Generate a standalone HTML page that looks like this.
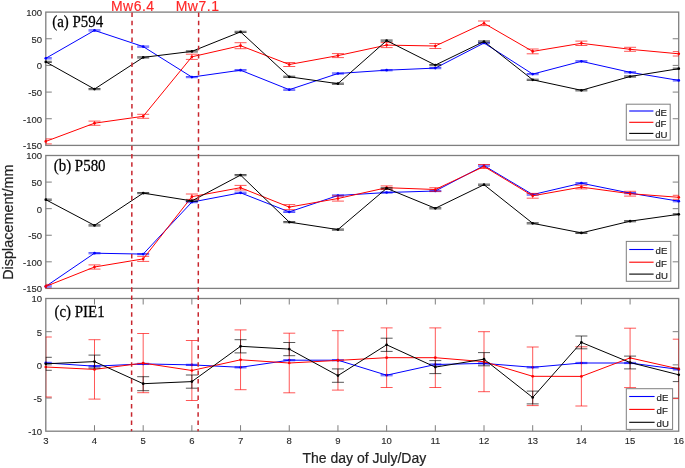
<!DOCTYPE html><html><head><meta charset="utf-8"><style>html,body{margin:0;padding:0;background:#fff;width:685px;height:468px;overflow:hidden}svg{display:block;will-change:transform}text{font-family:"Liberation Sans",sans-serif;fill:#262626}.tk{font-size:9.5px;stroke:#262626;stroke-width:0.12px}.lg{font-size:9.6px;stroke:#262626;stroke-width:0.2px}.pl{font-family:"Liberation Serif",serif;font-size:16px;fill:#000;stroke:#000;stroke-width:0.25px}.mw{font-size:14px;fill:#ff2626;letter-spacing:0.5px;stroke:#ff2626;stroke-width:0.15px}.al{font-size:14px;fill:#222;stroke:#222;stroke-width:0.2px}</style></head><body>
<svg width="685" height="468" viewBox="0 0 685 468">
<defs>
<clipPath id="cpa"><rect x="45.8" y="12.1" width="632.9" height="133.3"/></clipPath>
<clipPath id="cpb"><rect x="45.8" y="155.5" width="632.9" height="132.9"/></clipPath>
<clipPath id="cpc"><rect x="45.8" y="298.5" width="632.9" height="132.7"/></clipPath>
</defs>
<rect x="45.8" y="12.1" width="632.9" height="133.3" fill="none" stroke="#7f7f7f" stroke-width="1.3"/>
<rect x="45.8" y="155.5" width="632.9" height="132.9" fill="none" stroke="#7f7f7f" stroke-width="1.3"/>
<rect x="45.8" y="298.5" width="632.9" height="132.7" fill="none" stroke="#7f7f7f" stroke-width="1.3"/>
<text x="42" y="15.9" class="tk" text-anchor="end">100</text>
<text x="42" y="42.6" class="tk" text-anchor="end">50</text>
<line x1="45.8" x2="51.8" y1="38.76" y2="38.76" stroke="#7f7f7f" stroke-width="1"/>
<line x1="672.7" x2="678.7" y1="38.76" y2="38.76" stroke="#7f7f7f" stroke-width="1"/>
<text x="42" y="69.2" class="tk" text-anchor="end">0</text>
<line x1="45.8" x2="51.8" y1="65.42" y2="65.42" stroke="#7f7f7f" stroke-width="1"/>
<line x1="672.7" x2="678.7" y1="65.42" y2="65.42" stroke="#7f7f7f" stroke-width="1"/>
<text x="42" y="95.9" class="tk" text-anchor="end">-50</text>
<line x1="45.8" x2="51.8" y1="92.08" y2="92.08" stroke="#7f7f7f" stroke-width="1"/>
<line x1="672.7" x2="678.7" y1="92.08" y2="92.08" stroke="#7f7f7f" stroke-width="1"/>
<text x="42" y="122.5" class="tk" text-anchor="end">-100</text>
<line x1="45.8" x2="51.8" y1="118.74" y2="118.74" stroke="#7f7f7f" stroke-width="1"/>
<line x1="672.7" x2="678.7" y1="118.74" y2="118.74" stroke="#7f7f7f" stroke-width="1"/>
<text x="42" y="149.2" class="tk" text-anchor="end">-150</text>
<text x="42" y="159.3" class="tk" text-anchor="end">100</text>
<text x="42" y="185.9" class="tk" text-anchor="end">50</text>
<line x1="45.8" x2="51.8" y1="182.08" y2="182.08" stroke="#7f7f7f" stroke-width="1"/>
<line x1="672.7" x2="678.7" y1="182.08" y2="182.08" stroke="#7f7f7f" stroke-width="1"/>
<text x="42" y="212.5" class="tk" text-anchor="end">0</text>
<line x1="45.8" x2="51.8" y1="208.66" y2="208.66" stroke="#7f7f7f" stroke-width="1"/>
<line x1="672.7" x2="678.7" y1="208.66" y2="208.66" stroke="#7f7f7f" stroke-width="1"/>
<text x="42" y="239.0" class="tk" text-anchor="end">-50</text>
<line x1="45.8" x2="51.8" y1="235.24" y2="235.24" stroke="#7f7f7f" stroke-width="1"/>
<line x1="672.7" x2="678.7" y1="235.24" y2="235.24" stroke="#7f7f7f" stroke-width="1"/>
<text x="42" y="265.6" class="tk" text-anchor="end">-100</text>
<line x1="45.8" x2="51.8" y1="261.82" y2="261.82" stroke="#7f7f7f" stroke-width="1"/>
<line x1="672.7" x2="678.7" y1="261.82" y2="261.82" stroke="#7f7f7f" stroke-width="1"/>
<text x="42" y="292.2" class="tk" text-anchor="end">-150</text>
<text x="42" y="302.3" class="tk" text-anchor="end">10</text>
<text x="42" y="335.5" class="tk" text-anchor="end">5</text>
<line x1="45.8" x2="51.8" y1="331.68" y2="331.68" stroke="#7f7f7f" stroke-width="1"/>
<line x1="672.7" x2="678.7" y1="331.68" y2="331.68" stroke="#7f7f7f" stroke-width="1"/>
<text x="42" y="368.7" class="tk" text-anchor="end">0</text>
<line x1="45.8" x2="51.8" y1="364.85" y2="364.85" stroke="#7f7f7f" stroke-width="1"/>
<line x1="672.7" x2="678.7" y1="364.85" y2="364.85" stroke="#7f7f7f" stroke-width="1"/>
<text x="42" y="401.8" class="tk" text-anchor="end">-5</text>
<line x1="45.8" x2="51.8" y1="398.02" y2="398.02" stroke="#7f7f7f" stroke-width="1"/>
<line x1="672.7" x2="678.7" y1="398.02" y2="398.02" stroke="#7f7f7f" stroke-width="1"/>
<text x="42" y="435.0" class="tk" text-anchor="end">-10</text>
<text x="45.80" y="443.8" class="tk" text-anchor="middle">3</text>
<text x="94.49" y="443.8" class="tk" text-anchor="middle">4</text>
<line x1="94.49" x2="94.49" y1="425.2" y2="431.2" stroke="#7f7f7f" stroke-width="1"/>
<line x1="94.49" x2="94.49" y1="298.5" y2="304.5" stroke="#7f7f7f" stroke-width="1"/>
<text x="143.18" y="443.8" class="tk" text-anchor="middle">5</text>
<line x1="143.18" x2="143.18" y1="425.2" y2="431.2" stroke="#7f7f7f" stroke-width="1"/>
<line x1="143.18" x2="143.18" y1="298.5" y2="304.5" stroke="#7f7f7f" stroke-width="1"/>
<text x="191.87" y="443.8" class="tk" text-anchor="middle">6</text>
<line x1="191.87" x2="191.87" y1="425.2" y2="431.2" stroke="#7f7f7f" stroke-width="1"/>
<line x1="191.87" x2="191.87" y1="298.5" y2="304.5" stroke="#7f7f7f" stroke-width="1"/>
<text x="240.56" y="443.8" class="tk" text-anchor="middle">7</text>
<line x1="240.56" x2="240.56" y1="425.2" y2="431.2" stroke="#7f7f7f" stroke-width="1"/>
<line x1="240.56" x2="240.56" y1="298.5" y2="304.5" stroke="#7f7f7f" stroke-width="1"/>
<text x="289.25" y="443.8" class="tk" text-anchor="middle">8</text>
<line x1="289.25" x2="289.25" y1="425.2" y2="431.2" stroke="#7f7f7f" stroke-width="1"/>
<line x1="289.25" x2="289.25" y1="298.5" y2="304.5" stroke="#7f7f7f" stroke-width="1"/>
<text x="337.94" y="443.8" class="tk" text-anchor="middle">9</text>
<line x1="337.94" x2="337.94" y1="425.2" y2="431.2" stroke="#7f7f7f" stroke-width="1"/>
<line x1="337.94" x2="337.94" y1="298.5" y2="304.5" stroke="#7f7f7f" stroke-width="1"/>
<text x="386.63" y="443.8" class="tk" text-anchor="middle">10</text>
<line x1="386.63" x2="386.63" y1="425.2" y2="431.2" stroke="#7f7f7f" stroke-width="1"/>
<line x1="386.63" x2="386.63" y1="298.5" y2="304.5" stroke="#7f7f7f" stroke-width="1"/>
<text x="435.32" y="443.8" class="tk" text-anchor="middle">11</text>
<line x1="435.32" x2="435.32" y1="425.2" y2="431.2" stroke="#7f7f7f" stroke-width="1"/>
<line x1="435.32" x2="435.32" y1="298.5" y2="304.5" stroke="#7f7f7f" stroke-width="1"/>
<text x="484.01" y="443.8" class="tk" text-anchor="middle">12</text>
<line x1="484.01" x2="484.01" y1="425.2" y2="431.2" stroke="#7f7f7f" stroke-width="1"/>
<line x1="484.01" x2="484.01" y1="298.5" y2="304.5" stroke="#7f7f7f" stroke-width="1"/>
<text x="532.70" y="443.8" class="tk" text-anchor="middle">13</text>
<line x1="532.70" x2="532.70" y1="425.2" y2="431.2" stroke="#7f7f7f" stroke-width="1"/>
<line x1="532.70" x2="532.70" y1="298.5" y2="304.5" stroke="#7f7f7f" stroke-width="1"/>
<text x="581.39" y="443.8" class="tk" text-anchor="middle">14</text>
<line x1="581.39" x2="581.39" y1="425.2" y2="431.2" stroke="#7f7f7f" stroke-width="1"/>
<line x1="581.39" x2="581.39" y1="298.5" y2="304.5" stroke="#7f7f7f" stroke-width="1"/>
<text x="630.08" y="443.8" class="tk" text-anchor="middle">15</text>
<line x1="630.08" x2="630.08" y1="425.2" y2="431.2" stroke="#7f7f7f" stroke-width="1"/>
<line x1="630.08" x2="630.08" y1="298.5" y2="304.5" stroke="#7f7f7f" stroke-width="1"/>
<text x="678.77" y="443.8" class="tk" text-anchor="middle">16</text>
<g clip-path="url(#cpa)"><path d="M45.80 57.70V58.90M39.80 57.70H51.80M39.80 58.90H51.80" stroke="#0000ff" stroke-width="0.85" stroke-opacity="0.78" fill="none"/><path d="M94.49 29.80V31.00M88.49 29.80H100.49M88.49 31.00H100.49" stroke="#0000ff" stroke-width="0.85" stroke-opacity="0.78" fill="none"/><path d="M143.18 46.00V47.20M137.18 46.00H149.18M137.18 47.20H149.18" stroke="#0000ff" stroke-width="0.85" stroke-opacity="0.78" fill="none"/><path d="M191.87 76.50V77.70M185.87 76.50H197.87M185.87 77.70H197.87" stroke="#0000ff" stroke-width="0.85" stroke-opacity="0.78" fill="none"/><path d="M240.56 69.60V70.80M234.56 69.60H246.56M234.56 70.80H246.56" stroke="#0000ff" stroke-width="0.85" stroke-opacity="0.78" fill="none"/><path d="M289.25 89.10V90.30M283.25 89.10H295.25M283.25 90.30H295.25" stroke="#0000ff" stroke-width="0.85" stroke-opacity="0.78" fill="none"/><path d="M337.94 72.90V74.10M331.94 72.90H343.94M331.94 74.10H343.94" stroke="#0000ff" stroke-width="0.85" stroke-opacity="0.78" fill="none"/><path d="M386.63 69.60V70.80M380.63 69.60H392.63M380.63 70.80H392.63" stroke="#0000ff" stroke-width="0.85" stroke-opacity="0.78" fill="none"/><path d="M435.32 67.50V68.70M429.32 67.50H441.32M429.32 68.70H441.32" stroke="#0000ff" stroke-width="0.85" stroke-opacity="0.78" fill="none"/><path d="M484.01 42.40V43.60M478.01 42.40H490.01M478.01 43.60H490.01" stroke="#0000ff" stroke-width="0.85" stroke-opacity="0.78" fill="none"/><path d="M532.70 73.50V74.70M526.70 73.50H538.70M526.70 74.70H538.70" stroke="#0000ff" stroke-width="0.85" stroke-opacity="0.78" fill="none"/><path d="M581.39 60.70V61.90M575.39 60.70H587.39M575.39 61.90H587.39" stroke="#0000ff" stroke-width="0.85" stroke-opacity="0.78" fill="none"/><path d="M630.08 71.70V72.90M624.08 71.70H636.08M624.08 72.90H636.08" stroke="#0000ff" stroke-width="0.85" stroke-opacity="0.78" fill="none"/><path d="M678.77 79.80V81.00M672.77 79.80H684.77M672.77 81.00H684.77" stroke="#0000ff" stroke-width="0.85" stroke-opacity="0.78" fill="none"/></g><polyline points="45.80,58.30 94.49,30.40 143.18,46.60 191.87,77.10 240.56,70.20 289.25,89.70 337.94,73.50 386.63,70.20 435.32,68.10 484.01,43.00 532.70,74.10 581.39,61.30 630.08,72.30 678.77,80.40" stroke="#0000ff" stroke-width="1.0" fill="none" stroke-linejoin="round"/><circle cx="45.80" cy="58.30" r="1.35" fill="#0000ff"/><circle cx="94.49" cy="30.40" r="1.35" fill="#0000ff"/><circle cx="143.18" cy="46.60" r="1.35" fill="#0000ff"/><circle cx="191.87" cy="77.10" r="1.35" fill="#0000ff"/><circle cx="240.56" cy="70.20" r="1.35" fill="#0000ff"/><circle cx="289.25" cy="89.70" r="1.35" fill="#0000ff"/><circle cx="337.94" cy="73.50" r="1.35" fill="#0000ff"/><circle cx="386.63" cy="70.20" r="1.35" fill="#0000ff"/><circle cx="435.32" cy="68.10" r="1.35" fill="#0000ff"/><circle cx="484.01" cy="43.00" r="1.35" fill="#0000ff"/><circle cx="532.70" cy="74.10" r="1.35" fill="#0000ff"/><circle cx="581.39" cy="61.30" r="1.35" fill="#0000ff"/><circle cx="630.08" cy="72.30" r="1.35" fill="#0000ff"/><circle cx="678.77" cy="80.40" r="1.35" fill="#0000ff"/>
<g clip-path="url(#cpa)"><path d="M45.80 138.90V143.90M39.80 138.90H51.80M39.80 143.90H51.80" stroke="#ff0000" stroke-width="0.85" stroke-opacity="0.78" fill="none"/><path d="M94.49 121.10V125.30M88.49 121.10H100.49M88.49 125.30H100.49" stroke="#ff0000" stroke-width="0.85" stroke-opacity="0.78" fill="none"/><path d="M143.18 114.30V118.30M137.18 114.30H149.18M137.18 118.30H149.18" stroke="#ff0000" stroke-width="0.85" stroke-opacity="0.78" fill="none"/><path d="M191.87 54.20V59.40M185.87 54.20H197.87M185.87 59.40H197.87" stroke="#ff0000" stroke-width="0.85" stroke-opacity="0.78" fill="none"/><path d="M240.56 42.70V48.70M234.56 42.70H246.56M234.56 48.70H246.56" stroke="#ff0000" stroke-width="0.85" stroke-opacity="0.78" fill="none"/><path d="M289.25 62.50V66.50M283.25 62.50H295.25M283.25 66.50H295.25" stroke="#ff0000" stroke-width="0.85" stroke-opacity="0.78" fill="none"/><path d="M337.94 53.60V57.60M331.94 53.60H343.94M331.94 57.60H343.94" stroke="#ff0000" stroke-width="0.85" stroke-opacity="0.78" fill="none"/><path d="M386.63 42.60V47.60M380.63 42.60H392.63M380.63 47.60H392.63" stroke="#ff0000" stroke-width="0.85" stroke-opacity="0.78" fill="none"/><path d="M435.32 43.50V48.50M429.32 43.50H441.32M429.32 48.50H441.32" stroke="#ff0000" stroke-width="0.85" stroke-opacity="0.78" fill="none"/><path d="M484.01 21.00V25.60M478.01 21.00H490.01M478.01 25.60H490.01" stroke="#ff0000" stroke-width="0.85" stroke-opacity="0.78" fill="none"/><path d="M532.70 49.00V53.80M526.70 49.00H538.70M526.70 53.80H538.70" stroke="#ff0000" stroke-width="0.85" stroke-opacity="0.78" fill="none"/><path d="M581.39 41.10V45.50M575.39 41.10H587.39M575.39 45.50H587.39" stroke="#ff0000" stroke-width="0.85" stroke-opacity="0.78" fill="none"/><path d="M630.08 47.30V51.30M624.08 47.30H636.08M624.08 51.30H636.08" stroke="#ff0000" stroke-width="0.85" stroke-opacity="0.78" fill="none"/><path d="M678.77 51.60V56.00M672.77 51.60H684.77M672.77 56.00H684.77" stroke="#ff0000" stroke-width="0.85" stroke-opacity="0.78" fill="none"/></g><polyline points="45.80,141.40 94.49,123.20 143.18,116.30 191.87,56.80 240.56,45.70 289.25,64.50 337.94,55.60 386.63,45.10 435.32,46.00 484.01,23.30 532.70,51.40 581.39,43.30 630.08,49.30 678.77,53.80" stroke="#ff0000" stroke-width="1.0" fill="none" stroke-linejoin="round"/><circle cx="45.80" cy="141.40" r="1.35" fill="#ff0000"/><circle cx="94.49" cy="123.20" r="1.35" fill="#ff0000"/><circle cx="143.18" cy="116.30" r="1.35" fill="#ff0000"/><circle cx="191.87" cy="56.80" r="1.35" fill="#ff0000"/><circle cx="240.56" cy="45.70" r="1.35" fill="#ff0000"/><circle cx="289.25" cy="64.50" r="1.35" fill="#ff0000"/><circle cx="337.94" cy="55.60" r="1.35" fill="#ff0000"/><circle cx="386.63" cy="45.10" r="1.35" fill="#ff0000"/><circle cx="435.32" cy="46.00" r="1.35" fill="#ff0000"/><circle cx="484.01" cy="23.30" r="1.35" fill="#ff0000"/><circle cx="532.70" cy="51.40" r="1.35" fill="#ff0000"/><circle cx="581.39" cy="43.30" r="1.35" fill="#ff0000"/><circle cx="630.08" cy="49.30" r="1.35" fill="#ff0000"/><circle cx="678.77" cy="53.80" r="1.35" fill="#ff0000"/>
<g clip-path="url(#cpa)"><path d="M45.80 61.30V62.50M39.80 61.30H51.80M39.80 62.50H51.80" stroke="#000000" stroke-width="0.85" stroke-opacity="0.78" fill="none"/><path d="M94.49 88.50V89.70M88.49 88.50H100.49M88.49 89.70H100.49" stroke="#000000" stroke-width="0.85" stroke-opacity="0.78" fill="none"/><path d="M143.18 56.80V58.00M137.18 56.80H149.18M137.18 58.00H149.18" stroke="#000000" stroke-width="0.85" stroke-opacity="0.78" fill="none"/><path d="M191.87 50.80V52.00M185.87 50.80H197.87M185.87 52.00H197.87" stroke="#000000" stroke-width="0.85" stroke-opacity="0.78" fill="none"/><path d="M240.56 31.30V32.50M234.56 31.30H246.56M234.56 32.50H246.56" stroke="#000000" stroke-width="0.85" stroke-opacity="0.78" fill="none"/><path d="M289.25 76.20V77.40M283.25 76.20H295.25M283.25 77.40H295.25" stroke="#000000" stroke-width="0.85" stroke-opacity="0.78" fill="none"/><path d="M337.94 83.10V84.30M331.94 83.10H343.94M331.94 84.30H343.94" stroke="#000000" stroke-width="0.85" stroke-opacity="0.78" fill="none"/><path d="M386.63 40.00V41.20M380.63 40.00H392.63M380.63 41.20H392.63" stroke="#000000" stroke-width="0.85" stroke-opacity="0.78" fill="none"/><path d="M435.32 64.50V65.70M429.32 64.50H441.32M429.32 65.70H441.32" stroke="#000000" stroke-width="0.85" stroke-opacity="0.78" fill="none"/><path d="M484.01 40.90V42.10M478.01 40.90H490.01M478.01 42.10H490.01" stroke="#000000" stroke-width="0.85" stroke-opacity="0.78" fill="none"/><path d="M532.70 79.20V80.40M526.70 79.20H538.70M526.70 80.40H538.70" stroke="#000000" stroke-width="0.85" stroke-opacity="0.78" fill="none"/><path d="M581.39 89.70V90.90M575.39 89.70H587.39M575.39 90.90H587.39" stroke="#000000" stroke-width="0.85" stroke-opacity="0.78" fill="none"/><path d="M630.08 75.90V77.10M624.08 75.90H636.08M624.08 77.10H636.08" stroke="#000000" stroke-width="0.85" stroke-opacity="0.78" fill="none"/><path d="M678.77 68.10V69.30M672.77 68.10H684.77M672.77 69.30H684.77" stroke="#000000" stroke-width="0.85" stroke-opacity="0.78" fill="none"/></g><polyline points="45.80,61.90 94.49,89.10 143.18,57.40 191.87,51.40 240.56,31.90 289.25,76.80 337.94,83.70 386.63,40.60 435.32,65.10 484.01,41.50 532.70,79.80 581.39,90.30 630.08,76.50 678.77,68.70" stroke="#000000" stroke-width="1.0" fill="none" stroke-linejoin="round"/><circle cx="45.80" cy="61.90" r="1.35" fill="#000000"/><circle cx="94.49" cy="89.10" r="1.35" fill="#000000"/><circle cx="143.18" cy="57.40" r="1.35" fill="#000000"/><circle cx="191.87" cy="51.40" r="1.35" fill="#000000"/><circle cx="240.56" cy="31.90" r="1.35" fill="#000000"/><circle cx="289.25" cy="76.80" r="1.35" fill="#000000"/><circle cx="337.94" cy="83.70" r="1.35" fill="#000000"/><circle cx="386.63" cy="40.60" r="1.35" fill="#000000"/><circle cx="435.32" cy="65.10" r="1.35" fill="#000000"/><circle cx="484.01" cy="41.50" r="1.35" fill="#000000"/><circle cx="532.70" cy="79.80" r="1.35" fill="#000000"/><circle cx="581.39" cy="90.30" r="1.35" fill="#000000"/><circle cx="630.08" cy="76.50" r="1.35" fill="#000000"/><circle cx="678.77" cy="68.70" r="1.35" fill="#000000"/>
<g clip-path="url(#cpb)"><path d="M45.80 285.80V287.00M39.80 285.80H51.80M39.80 287.00H51.80" stroke="#0000ff" stroke-width="0.85" stroke-opacity="0.78" fill="none"/><path d="M94.49 252.60V253.80M88.49 252.60H100.49M88.49 253.80H100.49" stroke="#0000ff" stroke-width="0.85" stroke-opacity="0.78" fill="none"/><path d="M143.18 253.50V254.70M137.18 253.50H149.18M137.18 254.70H149.18" stroke="#0000ff" stroke-width="0.85" stroke-opacity="0.78" fill="none"/><path d="M191.87 201.50V202.70M185.87 201.50H197.87M185.87 202.70H197.87" stroke="#0000ff" stroke-width="0.85" stroke-opacity="0.78" fill="none"/><path d="M240.56 192.20V193.40M234.56 192.20H246.56M234.56 193.40H246.56" stroke="#0000ff" stroke-width="0.85" stroke-opacity="0.78" fill="none"/><path d="M289.25 211.30V212.50M283.25 211.30H295.25M283.25 212.50H295.25" stroke="#0000ff" stroke-width="0.85" stroke-opacity="0.78" fill="none"/><path d="M337.94 194.90V196.10M331.94 194.90H343.94M331.94 196.10H343.94" stroke="#0000ff" stroke-width="0.85" stroke-opacity="0.78" fill="none"/><path d="M386.63 191.90V193.10M380.63 191.90H392.63M380.63 193.10H392.63" stroke="#0000ff" stroke-width="0.85" stroke-opacity="0.78" fill="none"/><path d="M435.32 190.40V191.60M429.32 190.40H441.32M429.32 191.60H441.32" stroke="#0000ff" stroke-width="0.85" stroke-opacity="0.78" fill="none"/><path d="M484.01 165.00V166.20M478.01 165.00H490.01M478.01 166.20H490.01" stroke="#0000ff" stroke-width="0.85" stroke-opacity="0.78" fill="none"/><path d="M532.70 194.00V195.20M526.70 194.00H538.70M526.70 195.20H538.70" stroke="#0000ff" stroke-width="0.85" stroke-opacity="0.78" fill="none"/><path d="M581.39 182.60V183.80M575.39 182.60H587.39M575.39 183.80H587.39" stroke="#0000ff" stroke-width="0.85" stroke-opacity="0.78" fill="none"/><path d="M630.08 192.50V193.70M624.08 192.50H636.08M624.08 193.70H636.08" stroke="#0000ff" stroke-width="0.85" stroke-opacity="0.78" fill="none"/><path d="M678.77 200.60V201.80M672.77 200.60H684.77M672.77 201.80H684.77" stroke="#0000ff" stroke-width="0.85" stroke-opacity="0.78" fill="none"/></g><polyline points="45.80,286.40 94.49,253.20 143.18,254.10 191.87,202.10 240.56,192.80 289.25,211.90 337.94,195.50 386.63,192.50 435.32,191.00 484.01,165.60 532.70,194.60 581.39,183.20 630.08,193.10 678.77,201.20" stroke="#0000ff" stroke-width="1.0" fill="none" stroke-linejoin="round"/><circle cx="45.80" cy="286.40" r="1.35" fill="#0000ff"/><circle cx="94.49" cy="253.20" r="1.35" fill="#0000ff"/><circle cx="143.18" cy="254.10" r="1.35" fill="#0000ff"/><circle cx="191.87" cy="202.10" r="1.35" fill="#0000ff"/><circle cx="240.56" cy="192.80" r="1.35" fill="#0000ff"/><circle cx="289.25" cy="211.90" r="1.35" fill="#0000ff"/><circle cx="337.94" cy="195.50" r="1.35" fill="#0000ff"/><circle cx="386.63" cy="192.50" r="1.35" fill="#0000ff"/><circle cx="435.32" cy="191.00" r="1.35" fill="#0000ff"/><circle cx="484.01" cy="165.60" r="1.35" fill="#0000ff"/><circle cx="532.70" cy="194.60" r="1.35" fill="#0000ff"/><circle cx="581.39" cy="183.20" r="1.35" fill="#0000ff"/><circle cx="630.08" cy="193.10" r="1.35" fill="#0000ff"/><circle cx="678.77" cy="201.20" r="1.35" fill="#0000ff"/>
<g clip-path="url(#cpb)"><path d="M45.80 284.40V288.40M39.80 284.40H51.80M39.80 288.40H51.80" stroke="#ff0000" stroke-width="0.85" stroke-opacity="0.78" fill="none"/><path d="M94.49 264.90V269.10M88.49 264.90H100.49M88.49 269.10H100.49" stroke="#ff0000" stroke-width="0.85" stroke-opacity="0.78" fill="none"/><path d="M143.18 256.40V261.40M137.18 256.40H149.18M137.18 261.40H149.18" stroke="#ff0000" stroke-width="0.85" stroke-opacity="0.78" fill="none"/><path d="M191.87 194.00V199.40M185.87 194.00H197.87M185.87 199.40H197.87" stroke="#ff0000" stroke-width="0.85" stroke-opacity="0.78" fill="none"/><path d="M240.56 185.40V190.00M234.56 185.40H246.56M234.56 190.00H246.56" stroke="#ff0000" stroke-width="0.85" stroke-opacity="0.78" fill="none"/><path d="M289.25 204.60V209.60M283.25 204.60H295.25M283.25 209.60H295.25" stroke="#ff0000" stroke-width="0.85" stroke-opacity="0.78" fill="none"/><path d="M337.94 195.90V201.10M331.94 195.90H343.94M331.94 201.10H343.94" stroke="#ff0000" stroke-width="0.85" stroke-opacity="0.78" fill="none"/><path d="M386.63 185.90V189.50M380.63 185.90H392.63M380.63 189.50H392.63" stroke="#ff0000" stroke-width="0.85" stroke-opacity="0.78" fill="none"/><path d="M435.32 187.70V191.30M429.32 187.70H441.32M429.32 191.30H441.32" stroke="#ff0000" stroke-width="0.85" stroke-opacity="0.78" fill="none"/><path d="M484.01 164.50V168.50M478.01 164.50H490.01M478.01 168.50H490.01" stroke="#ff0000" stroke-width="0.85" stroke-opacity="0.78" fill="none"/><path d="M532.70 193.40V198.20M526.70 193.40H538.70M526.70 198.20H538.70" stroke="#ff0000" stroke-width="0.85" stroke-opacity="0.78" fill="none"/><path d="M581.39 185.30V188.90M575.39 185.30H587.39M575.39 188.90H587.39" stroke="#ff0000" stroke-width="0.85" stroke-opacity="0.78" fill="none"/><path d="M630.08 191.30V196.10M624.08 191.30H636.08M624.08 196.10H636.08" stroke="#ff0000" stroke-width="0.85" stroke-opacity="0.78" fill="none"/><path d="M678.77 195.30V199.30M672.77 195.30H684.77M672.77 199.30H684.77" stroke="#ff0000" stroke-width="0.85" stroke-opacity="0.78" fill="none"/></g><polyline points="45.80,286.40 94.49,267.00 143.18,258.90 191.87,196.70 240.56,187.70 289.25,207.10 337.94,198.50 386.63,187.70 435.32,189.50 484.01,166.50 532.70,195.80 581.39,187.10 630.08,193.70 678.77,197.30" stroke="#ff0000" stroke-width="1.0" fill="none" stroke-linejoin="round"/><circle cx="45.80" cy="286.40" r="1.35" fill="#ff0000"/><circle cx="94.49" cy="267.00" r="1.35" fill="#ff0000"/><circle cx="143.18" cy="258.90" r="1.35" fill="#ff0000"/><circle cx="191.87" cy="196.70" r="1.35" fill="#ff0000"/><circle cx="240.56" cy="187.70" r="1.35" fill="#ff0000"/><circle cx="289.25" cy="207.10" r="1.35" fill="#ff0000"/><circle cx="337.94" cy="198.50" r="1.35" fill="#ff0000"/><circle cx="386.63" cy="187.70" r="1.35" fill="#ff0000"/><circle cx="435.32" cy="189.50" r="1.35" fill="#ff0000"/><circle cx="484.01" cy="166.50" r="1.35" fill="#ff0000"/><circle cx="532.70" cy="195.80" r="1.35" fill="#ff0000"/><circle cx="581.39" cy="187.10" r="1.35" fill="#ff0000"/><circle cx="630.08" cy="193.70" r="1.35" fill="#ff0000"/><circle cx="678.77" cy="197.30" r="1.35" fill="#ff0000"/>
<g clip-path="url(#cpb)"><path d="M45.80 199.10V200.30M39.80 199.10H51.80M39.80 200.30H51.80" stroke="#000000" stroke-width="0.85" stroke-opacity="0.78" fill="none"/><path d="M94.49 224.80V226.00M88.49 224.80H100.49M88.49 226.00H100.49" stroke="#000000" stroke-width="0.85" stroke-opacity="0.78" fill="none"/><path d="M143.18 192.50V193.70M137.18 192.50H149.18M137.18 193.70H149.18" stroke="#000000" stroke-width="0.85" stroke-opacity="0.78" fill="none"/><path d="M191.87 200.30V201.50M185.87 200.30H197.87M185.87 201.50H197.87" stroke="#000000" stroke-width="0.85" stroke-opacity="0.78" fill="none"/><path d="M240.56 174.50V175.70M234.56 174.50H246.56M234.56 175.70H246.56" stroke="#000000" stroke-width="0.85" stroke-opacity="0.78" fill="none"/><path d="M289.25 221.50V222.70M283.25 221.50H295.25M283.25 222.70H295.25" stroke="#000000" stroke-width="0.85" stroke-opacity="0.78" fill="none"/><path d="M337.94 229.00V230.20M331.94 229.00H343.94M331.94 230.20H343.94" stroke="#000000" stroke-width="0.85" stroke-opacity="0.78" fill="none"/><path d="M386.63 187.70V188.90M380.63 187.70H392.63M380.63 188.90H392.63" stroke="#000000" stroke-width="0.85" stroke-opacity="0.78" fill="none"/><path d="M435.32 207.70V208.90M429.32 207.70H441.32M429.32 208.90H441.32" stroke="#000000" stroke-width="0.85" stroke-opacity="0.78" fill="none"/><path d="M484.01 184.10V185.30M478.01 184.10H490.01M478.01 185.30H490.01" stroke="#000000" stroke-width="0.85" stroke-opacity="0.78" fill="none"/><path d="M532.70 222.70V223.90M526.70 222.70H538.70M526.70 223.90H538.70" stroke="#000000" stroke-width="0.85" stroke-opacity="0.78" fill="none"/><path d="M581.39 232.30V233.50M575.39 232.30H587.39M575.39 233.50H587.39" stroke="#000000" stroke-width="0.85" stroke-opacity="0.78" fill="none"/><path d="M630.08 220.60V221.80M624.08 220.60H636.08M624.08 221.80H636.08" stroke="#000000" stroke-width="0.85" stroke-opacity="0.78" fill="none"/><path d="M678.77 213.70V214.90M672.77 213.70H684.77M672.77 214.90H684.77" stroke="#000000" stroke-width="0.85" stroke-opacity="0.78" fill="none"/></g><polyline points="45.80,199.70 94.49,225.40 143.18,193.10 191.87,200.90 240.56,175.10 289.25,222.10 337.94,229.60 386.63,188.30 435.32,208.30 484.01,184.70 532.70,223.30 581.39,232.90 630.08,221.20 678.77,214.30" stroke="#000000" stroke-width="1.0" fill="none" stroke-linejoin="round"/><circle cx="45.80" cy="199.70" r="1.35" fill="#000000"/><circle cx="94.49" cy="225.40" r="1.35" fill="#000000"/><circle cx="143.18" cy="193.10" r="1.35" fill="#000000"/><circle cx="191.87" cy="200.90" r="1.35" fill="#000000"/><circle cx="240.56" cy="175.10" r="1.35" fill="#000000"/><circle cx="289.25" cy="222.10" r="1.35" fill="#000000"/><circle cx="337.94" cy="229.60" r="1.35" fill="#000000"/><circle cx="386.63" cy="188.30" r="1.35" fill="#000000"/><circle cx="435.32" cy="208.30" r="1.35" fill="#000000"/><circle cx="484.01" cy="184.70" r="1.35" fill="#000000"/><circle cx="532.70" cy="223.30" r="1.35" fill="#000000"/><circle cx="581.39" cy="232.90" r="1.35" fill="#000000"/><circle cx="630.08" cy="221.20" r="1.35" fill="#000000"/><circle cx="678.77" cy="214.30" r="1.35" fill="#000000"/>
<g clip-path="url(#cpc)"><path d="M45.80 362.30V363.50M39.80 362.30H51.80M39.80 363.50H51.80" stroke="#0000ff" stroke-width="0.85" stroke-opacity="0.78" fill="none"/><path d="M94.49 365.60V366.80M88.49 365.60H100.49M88.49 366.80H100.49" stroke="#0000ff" stroke-width="0.85" stroke-opacity="0.78" fill="none"/><path d="M143.18 363.30V364.50M137.18 363.30H149.18M137.18 364.50H149.18" stroke="#0000ff" stroke-width="0.85" stroke-opacity="0.78" fill="none"/><path d="M191.87 364.30V365.50M185.87 364.30H197.87M185.87 365.50H197.87" stroke="#0000ff" stroke-width="0.85" stroke-opacity="0.78" fill="none"/><path d="M240.56 366.70V367.90M234.56 366.70H246.56M234.56 367.90H246.56" stroke="#0000ff" stroke-width="0.85" stroke-opacity="0.78" fill="none"/><path d="M289.25 359.60V360.80M283.25 359.60H295.25M283.25 360.80H295.25" stroke="#0000ff" stroke-width="0.85" stroke-opacity="0.78" fill="none"/><path d="M337.94 359.60V360.80M331.94 359.60H343.94M331.94 360.80H343.94" stroke="#0000ff" stroke-width="0.85" stroke-opacity="0.78" fill="none"/><path d="M386.63 374.60V375.80M380.63 374.60H392.63M380.63 375.80H392.63" stroke="#0000ff" stroke-width="0.85" stroke-opacity="0.78" fill="none"/><path d="M435.32 363.90V365.10M429.32 363.90H441.32M429.32 365.10H441.32" stroke="#0000ff" stroke-width="0.85" stroke-opacity="0.78" fill="none"/><path d="M484.01 362.80V364.00M478.01 362.80H490.01M478.01 364.00H490.01" stroke="#0000ff" stroke-width="0.85" stroke-opacity="0.78" fill="none"/><path d="M532.70 366.70V367.90M526.70 366.70H538.70M526.70 367.90H538.70" stroke="#0000ff" stroke-width="0.85" stroke-opacity="0.78" fill="none"/><path d="M581.39 362.40V363.60M575.39 362.40H587.39M575.39 363.60H587.39" stroke="#0000ff" stroke-width="0.85" stroke-opacity="0.78" fill="none"/><path d="M630.08 362.40V363.60M624.08 362.40H636.08M624.08 363.60H636.08" stroke="#0000ff" stroke-width="0.85" stroke-opacity="0.78" fill="none"/><path d="M678.77 368.80V370.00M672.77 368.80H684.77M672.77 370.00H684.77" stroke="#0000ff" stroke-width="0.85" stroke-opacity="0.78" fill="none"/></g><polyline points="45.80,362.90 94.49,366.20 143.18,363.90 191.87,364.90 240.56,367.30 289.25,360.20 337.94,360.20 386.63,375.20 435.32,364.50 484.01,363.40 532.70,367.30 581.39,363.00 630.08,363.00 678.77,369.40" stroke="#0000ff" stroke-width="1.0" fill="none" stroke-linejoin="round"/><circle cx="45.80" cy="362.90" r="1.35" fill="#0000ff"/><circle cx="94.49" cy="366.20" r="1.35" fill="#0000ff"/><circle cx="143.18" cy="363.90" r="1.35" fill="#0000ff"/><circle cx="191.87" cy="364.90" r="1.35" fill="#0000ff"/><circle cx="240.56" cy="367.30" r="1.35" fill="#0000ff"/><circle cx="289.25" cy="360.20" r="1.35" fill="#0000ff"/><circle cx="337.94" cy="360.20" r="1.35" fill="#0000ff"/><circle cx="386.63" cy="375.20" r="1.35" fill="#0000ff"/><circle cx="435.32" cy="364.50" r="1.35" fill="#0000ff"/><circle cx="484.01" cy="363.40" r="1.35" fill="#0000ff"/><circle cx="532.70" cy="367.30" r="1.35" fill="#0000ff"/><circle cx="581.39" cy="363.00" r="1.35" fill="#0000ff"/><circle cx="630.08" cy="363.00" r="1.35" fill="#0000ff"/><circle cx="678.77" cy="369.40" r="1.35" fill="#0000ff"/>
<g clip-path="url(#cpc)"><path d="M45.80 337.00V397.00M39.80 337.00H51.80M39.80 397.00H51.80" stroke="#ff0000" stroke-width="0.85" stroke-opacity="0.78" fill="none"/><path d="M94.49 339.70V399.10M88.49 339.70H100.49M88.49 399.10H100.49" stroke="#ff0000" stroke-width="0.85" stroke-opacity="0.78" fill="none"/><path d="M143.18 333.50V392.70M137.18 333.50H149.18M137.18 392.70H149.18" stroke="#ff0000" stroke-width="0.85" stroke-opacity="0.78" fill="none"/><path d="M191.87 340.50V400.50M185.87 340.50H197.87M185.87 400.50H197.87" stroke="#ff0000" stroke-width="0.85" stroke-opacity="0.78" fill="none"/><path d="M240.56 329.90V389.70M234.56 329.90H246.56M234.56 389.70H246.56" stroke="#ff0000" stroke-width="0.85" stroke-opacity="0.78" fill="none"/><path d="M289.25 333.20V392.80M283.25 333.20H295.25M283.25 392.80H295.25" stroke="#ff0000" stroke-width="0.85" stroke-opacity="0.78" fill="none"/><path d="M337.94 330.70V390.10M331.94 330.70H343.94M331.94 390.10H343.94" stroke="#ff0000" stroke-width="0.85" stroke-opacity="0.78" fill="none"/><path d="M386.63 327.90V387.50M380.63 327.90H392.63M380.63 387.50H392.63" stroke="#ff0000" stroke-width="0.85" stroke-opacity="0.78" fill="none"/><path d="M435.32 327.90V387.50M429.32 327.90H441.32M429.32 387.50H441.32" stroke="#ff0000" stroke-width="0.85" stroke-opacity="0.78" fill="none"/><path d="M484.01 331.70V391.70M478.01 331.70H490.01M478.01 391.70H490.01" stroke="#ff0000" stroke-width="0.85" stroke-opacity="0.78" fill="none"/><path d="M532.70 347.00V405.60M526.70 347.00H538.70M526.70 405.60H538.70" stroke="#ff0000" stroke-width="0.85" stroke-opacity="0.78" fill="none"/><path d="M581.39 346.80V406.00M575.39 346.80H587.39M575.39 406.00H587.39" stroke="#ff0000" stroke-width="0.85" stroke-opacity="0.78" fill="none"/><path d="M630.08 328.20V387.60M624.08 328.20H636.08M624.08 387.60H636.08" stroke="#ff0000" stroke-width="0.85" stroke-opacity="0.78" fill="none"/><path d="M678.77 339.20V398.60M672.77 339.20H684.77M672.77 398.60H684.77" stroke="#ff0000" stroke-width="0.85" stroke-opacity="0.78" fill="none"/></g><polyline points="45.80,367.00 94.49,369.40 143.18,363.10 191.87,370.50 240.56,359.80 289.25,363.00 337.94,360.40 386.63,357.70 435.32,357.70 484.01,361.70 532.70,376.30 581.39,376.40 630.08,357.90 678.77,368.90" stroke="#ff0000" stroke-width="1.0" fill="none" stroke-linejoin="round"/><circle cx="45.80" cy="367.00" r="1.35" fill="#ff0000"/><circle cx="94.49" cy="369.40" r="1.35" fill="#ff0000"/><circle cx="143.18" cy="363.10" r="1.35" fill="#ff0000"/><circle cx="191.87" cy="370.50" r="1.35" fill="#ff0000"/><circle cx="240.56" cy="359.80" r="1.35" fill="#ff0000"/><circle cx="289.25" cy="363.00" r="1.35" fill="#ff0000"/><circle cx="337.94" cy="360.40" r="1.35" fill="#ff0000"/><circle cx="386.63" cy="357.70" r="1.35" fill="#ff0000"/><circle cx="435.32" cy="357.70" r="1.35" fill="#ff0000"/><circle cx="484.01" cy="361.70" r="1.35" fill="#ff0000"/><circle cx="532.70" cy="376.30" r="1.35" fill="#ff0000"/><circle cx="581.39" cy="376.40" r="1.35" fill="#ff0000"/><circle cx="630.08" cy="357.90" r="1.35" fill="#ff0000"/><circle cx="678.77" cy="368.90" r="1.35" fill="#ff0000"/>
<g clip-path="url(#cpc)"><path d="M45.80 357.30V370.30M39.80 357.30H51.80M39.80 370.30H51.80" stroke="#000000" stroke-width="0.85" stroke-opacity="0.78" fill="none"/><path d="M94.49 355.10V368.10M88.49 355.10H100.49M88.49 368.10H100.49" stroke="#000000" stroke-width="0.85" stroke-opacity="0.78" fill="none"/><path d="M143.18 376.70V390.70M137.18 376.70H149.18M137.18 390.70H149.18" stroke="#000000" stroke-width="0.85" stroke-opacity="0.78" fill="none"/><path d="M191.87 375.00V388.20M185.87 375.00H197.87M185.87 388.20H197.87" stroke="#000000" stroke-width="0.85" stroke-opacity="0.78" fill="none"/><path d="M240.56 339.70V352.90M234.56 339.70H246.56M234.56 352.90H246.56" stroke="#000000" stroke-width="0.85" stroke-opacity="0.78" fill="none"/><path d="M289.25 342.50V355.70M283.25 342.50H295.25M283.25 355.70H295.25" stroke="#000000" stroke-width="0.85" stroke-opacity="0.78" fill="none"/><path d="M337.94 368.90V382.30M331.94 368.90H343.94M331.94 382.30H343.94" stroke="#000000" stroke-width="0.85" stroke-opacity="0.78" fill="none"/><path d="M386.63 338.20V351.40M380.63 338.20H392.63M380.63 351.40H392.63" stroke="#000000" stroke-width="0.85" stroke-opacity="0.78" fill="none"/><path d="M435.32 360.60V373.60M429.32 360.60H441.32M429.32 373.60H441.32" stroke="#000000" stroke-width="0.85" stroke-opacity="0.78" fill="none"/><path d="M484.01 352.60V365.80M478.01 352.60H490.01M478.01 365.80H490.01" stroke="#000000" stroke-width="0.85" stroke-opacity="0.78" fill="none"/><path d="M532.70 391.10V403.90M526.70 391.10H538.70M526.70 403.90H538.70" stroke="#000000" stroke-width="0.85" stroke-opacity="0.78" fill="none"/><path d="M581.39 336.00V348.80M575.39 336.00H587.39M575.39 348.80H587.39" stroke="#000000" stroke-width="0.85" stroke-opacity="0.78" fill="none"/><path d="M630.08 356.10V368.90M624.08 356.10H636.08M624.08 368.90H636.08" stroke="#000000" stroke-width="0.85" stroke-opacity="0.78" fill="none"/><path d="M678.77 368.00V381.60M672.77 368.00H684.77M672.77 381.60H684.77" stroke="#000000" stroke-width="0.85" stroke-opacity="0.78" fill="none"/></g><polyline points="45.80,363.80 94.49,361.60 143.18,383.70 191.87,381.60 240.56,346.30 289.25,349.10 337.94,375.60 386.63,344.80 435.32,367.10 484.01,359.20 532.70,397.50 581.39,342.40 630.08,362.50 678.77,374.80" stroke="#000000" stroke-width="1.0" fill="none" stroke-linejoin="round"/><circle cx="45.80" cy="363.80" r="1.35" fill="#000000"/><circle cx="94.49" cy="361.60" r="1.35" fill="#000000"/><circle cx="143.18" cy="383.70" r="1.35" fill="#000000"/><circle cx="191.87" cy="381.60" r="1.35" fill="#000000"/><circle cx="240.56" cy="346.30" r="1.35" fill="#000000"/><circle cx="289.25" cy="349.10" r="1.35" fill="#000000"/><circle cx="337.94" cy="375.60" r="1.35" fill="#000000"/><circle cx="386.63" cy="344.80" r="1.35" fill="#000000"/><circle cx="435.32" cy="367.10" r="1.35" fill="#000000"/><circle cx="484.01" cy="359.20" r="1.35" fill="#000000"/><circle cx="532.70" cy="397.50" r="1.35" fill="#000000"/><circle cx="581.39" cy="342.40" r="1.35" fill="#000000"/><circle cx="630.08" cy="362.50" r="1.35" fill="#000000"/><circle cx="678.77" cy="374.80" r="1.35" fill="#000000"/>
<rect x="626.3" y="104.2" width="43.9" height="35.9" fill="#fff" stroke="#7f7f7f" stroke-width="1"/>
<line x1="629.2" x2="653.4" y1="111.0" y2="111.0" stroke="#0000ff" stroke-width="1.1"/>
<text x="655.2" y="115.8" class="lg">dE</text>
<line x1="629.2" x2="653.4" y1="122.3" y2="122.3" stroke="#ff0000" stroke-width="1.1"/>
<text x="655.2" y="127.1" class="lg">dF</text>
<line x1="629.2" x2="653.4" y1="133.4" y2="133.4" stroke="#000000" stroke-width="1.1"/>
<text x="655.2" y="138.2" class="lg">dU</text>
<rect x="626.3" y="241.4" width="44.5" height="39.9" fill="#fff" stroke="#7f7f7f" stroke-width="1"/>
<line x1="629.2" x2="653.6" y1="249.5" y2="249.5" stroke="#0000ff" stroke-width="1.1"/>
<text x="655.6" y="254.3" class="lg">dE</text>
<line x1="629.2" x2="653.6" y1="262.2" y2="262.2" stroke="#ff0000" stroke-width="1.1"/>
<text x="655.6" y="267.0" class="lg">dF</text>
<line x1="629.2" x2="653.6" y1="274.1" y2="274.1" stroke="#000000" stroke-width="1.1"/>
<text x="655.6" y="278.9" class="lg">dU</text>
<rect x="626.3" y="388.7" width="46.3" height="40.7" fill="#fff" stroke="#7f7f7f" stroke-width="1"/>
<line x1="629.2" x2="654.6" y1="396.5" y2="396.5" stroke="#0000ff" stroke-width="1.1"/>
<text x="656.6" y="401.3" class="lg">dE</text>
<line x1="629.2" x2="654.6" y1="409.4" y2="409.4" stroke="#ff0000" stroke-width="1.1"/>
<text x="656.6" y="414.2" class="lg">dF</text>
<line x1="629.2" x2="654.6" y1="422.3" y2="422.3" stroke="#000000" stroke-width="1.1"/>
<text x="656.6" y="427.1" class="lg">dU</text>
<line x1="132.05" x2="131.55" y1="12.4" y2="431.2" stroke="#c8262e" stroke-width="1.5" stroke-dasharray="4.5 3.83"/>
<line x1="198.65" x2="198.1" y1="12.4" y2="431.2" stroke="#c8262e" stroke-width="1.5" stroke-dasharray="4.5 3.83"/>
<text transform="translate(52.2 27.3) scale(0.935 1)" class="pl">(a) P594</text>
<text transform="translate(53.7 171.0) scale(0.935 1)" class="pl">(b) P580</text>
<text transform="translate(54.4 317.0) scale(0.935 1)" class="pl">(c) PIE1</text>
<text x="110.9" y="10.8" class="mw">Mw6.4</text>
<text x="175.7" y="10.8" class="mw">Mw7.1</text>
<text x="364.4" y="462.6" class="al" text-anchor="middle">The day of July/Day</text>
<text transform="translate(13.4 222.2) rotate(-90)" class="al" style="font-size:14.4px" text-anchor="middle">Displacement/mm</text>
</svg></body></html>
